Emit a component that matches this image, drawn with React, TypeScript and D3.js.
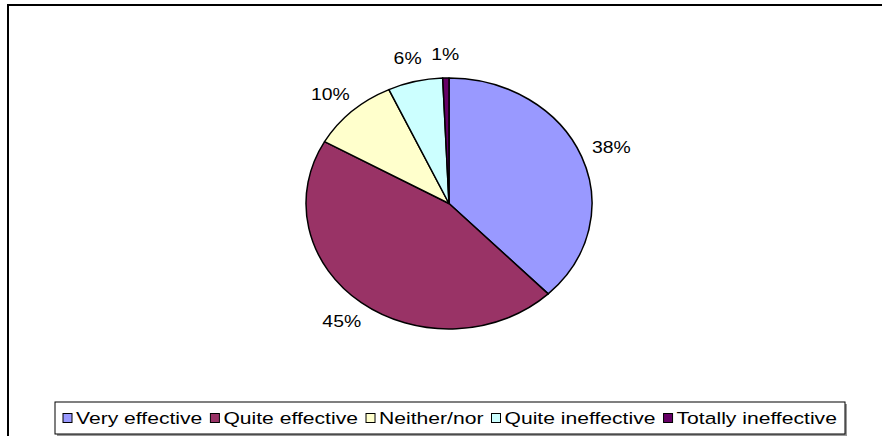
import React, { useEffect, useRef } from "react";
import * as d3 from "d3";

const categories = ["Very effective", "Quite effective", "Neither/nor", "Quite ineffective", "Totally ineffective"];
const values = [37.8, 45.4, 9.9, 6.2, 0.7];
const labels = ["38%", "45%", "10%", "6%", "1%"];
const colors = ["#9999FF", "#993366", "#FFFFCC", "#CCFFFF", "#660066"];

const W = 882;
const H = 436;

export default function App() {
  const ref = useRef<SVGSVGElement | null>(null);

  useEffect(() => {
    const svg = d3.select(ref.current);
    svg.selectAll("*").remove();

    const font = "'Liberation Sans', Arial, sans-serif";
    const sx = 1.14;

    // outer frame
    svg.append("rect").attr("x", 8).attr("y", 5).attr("width", 1000).attr("height", 1000)
      .attr("fill", "white").attr("stroke", "black").attr("stroke-width", 2);

    const cx = 449, cy = 203.5, ry = 125.5, rx = 143;
    const pie = d3.pie<number>().sort(null).value((d) => d);
    const arcs = pie(values);
    const arc = d3.arc<d3.PieArcDatum<number>>().innerRadius(0).outerRadius(ry);

    const g = svg.append("g").attr("transform", `translate(${cx},${cy}) scale(${rx / ry},1)`);
    g.selectAll("path").data(arcs).enter().append("path")
      .attr("d", (d) => arc(d) as string)
      .attr("fill", (_d, i) => colors[i])
      .attr("stroke", "black")
      .attr("stroke-width", 1.5)
      .attr("stroke-linejoin", "round")
      .attr("vector-effect", "non-scaling-stroke");

    const lrx = 175, lry = 149;
    arcs.forEach((a, i) => {
      const m = (a.startAngle + a.endAngle) / 2;
      const x = cx + lrx * Math.sin(m);
      const y = cy - lry * Math.cos(m);
      svg.append("text")
        .attr("transform", `translate(${x},${y}) scale(${sx},1)`)
        .attr("text-anchor", "middle")
        .attr("dominant-baseline", "central")
        .attr("font-family", font)
        .attr("font-size", 17)
        .attr("fill", "black")
        .text(labels[i]);
    });

    // legend
    const lx0 = 55, lx1 = 845, ly0 = 402, ly1 = 434;
    svg.append("rect").attr("x", lx0 + 2).attr("y", ly0 + 2).attr("width", lx1 - lx0).attr("height", ly1 - ly0)
      .attr("fill", "#999");
    svg.append("rect").attr("x", lx0).attr("y", ly0).attr("width", lx1 - lx0).attr("height", ly1 - ly0)
      .attr("fill", "white").attr("stroke", "black").attr("stroke-width", 1);

    const lg = svg.append("g");
    const texts = categories.map((c) =>
      lg.append("text").attr("font-family", font).attr("font-size", 17).attr("dominant-baseline", "central").text(c)
    );
    const widths = texts.map((t) => (t.node() as SVGTextElement).getComputedTextLength());
    const sq = 9, gapSqText = 4, gapItem = 8;
    const avail = (lx1 - lx0) - 16 - categories.length * (sq + gapSqText) - (categories.length - 1) * gapItem;
    const scale = avail / d3.sum(widths);
    let x = lx0 + 8;
    const yc = (ly0 + ly1) / 2;
    categories.forEach((_c, i) => {
      lg.append("rect").attr("x", x).attr("y", yc - sq / 2).attr("width", sq).attr("height", sq)
        .attr("fill", colors[i]).attr("stroke", "black").attr("stroke-width", 1);
      x += sq + gapSqText;
      texts[i].attr("transform", `translate(${x},${yc}) scale(${scale},1)`);
      x += widths[i] * scale + gapItem;
    });
  }, []);

  return (
    <svg ref={ref} width={W} height={H} style={{ position: "absolute", left: 0, top: 0, background: "white" }} />
  );
}
